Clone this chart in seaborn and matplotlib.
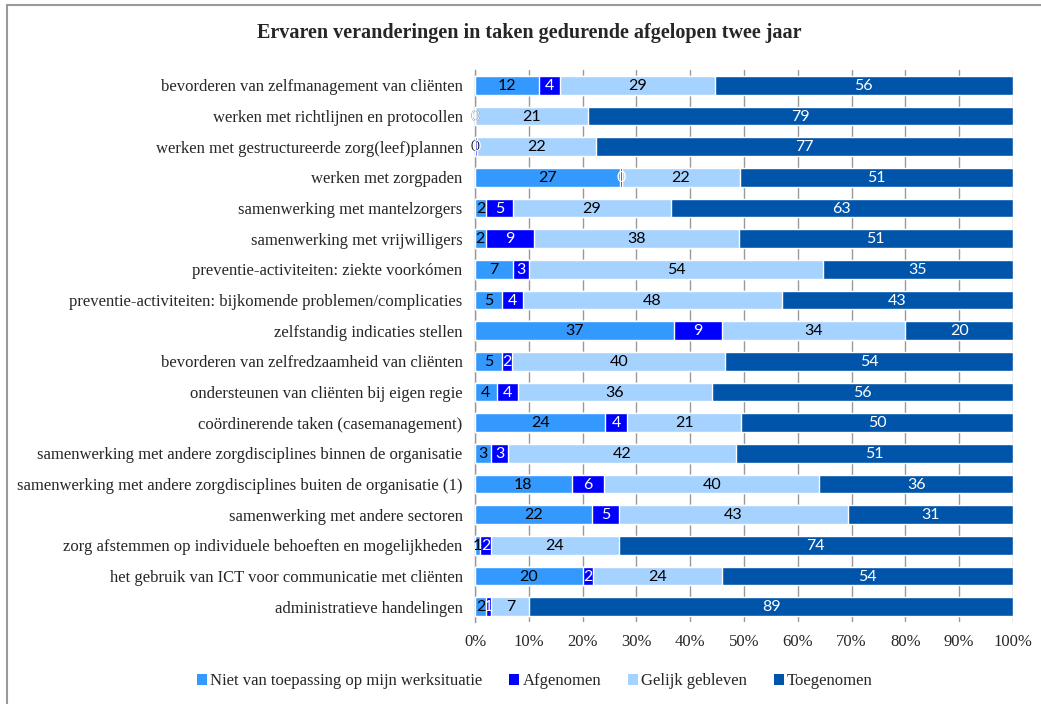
import numpy as np
import pandas as pd
import matplotlib.pyplot as plt
import seaborn as sns
from matplotlib.patches import Rectangle, Patch

taken = [
    "bevorderen van zelfmanagement van cliënten",
    "werken met richtlijnen en protocollen",
    "werken met gestructureerde zorg(leef)plannen",
    "werken met zorgpaden",
    "samenwerking met mantelzorgers",
    "samenwerking met vrijwilligers",
    "preventie-activiteiten: ziekte voorkómen",
    "preventie-activiteiten: bijkomende problemen/complicaties",
    "zelfstandig indicaties stellen",
    "bevorderen van zelfredzaamheid van cliënten",
    "ondersteunen van cliënten bij eigen regie",
    "coördinerende taken (casemanagement)",
    "samenwerking met andere zorgdisciplines binnen de organisatie",
    "samenwerking met andere zorgdisciplines buiten de organisatie (1)",
    "samenwerking met andere sectoren",
    "zorg afstemmen op individuele behoeften en mogelijkheden",
    "het gebruik van ICT voor communicatie met cliënten",
    "administratieve handelingen",
]

niet_van_toepassing = [12, 0, 0, 27, 2, 2, 7, 5, 37, 5, 4, 24, 3, 18, 22, 1, 20, 2]
afgenomen = [4, 0, 0.4, 0.4, 5, 9, 3, 4, 9, 2, 4, 4, 3, 6, 5, 2, 2, 1]
gelijk_gebleven = [29, 21, 22, 22, 29, 38, 54, 48, 34, 40, 36, 21, 42, 40, 43, 24, 24, 7]
toegenomen = [56, 79, 77, 51, 63, 51, 35, 43, 20, 54, 56, 50, 51, 36, 31, 74, 54, 89]

reeksen = ["Niet van toepassing op mijn werksituatie", "Afgenomen",
           "Gelijk gebleven", "Toegenomen"]
kleuren = ["#3399FF", "#0000FF", "#A6D2FF", "#0055AA"]
tekstkleuren = ["black", "white", "black", "white"]

waarden = np.array([niet_van_toepassing, afgenomen, gelijk_gebleven, toegenomen]).T
pct = waarden / waarden.sum(axis=1, keepdims=True) * 100
cum = np.cumsum(pct, axis=1)

df = pd.DataFrame(cum, columns=reeksen)
df["taak"] = taken

sns.set_theme(style="white")
serif = ["Liberation Serif", "DejaVu Serif"]
plt.rcParams["font.family"] = serif

fig = plt.figure(figsize=(10.41, 7.04), dpi=100)
ax = fig.add_axes([0.4563, 0.1165, 0.5168, 0.7841])

# stapel van achter naar voren tekenen
for naam, kleur in reversed(list(zip(reeksen, kleuren))):
    sns.barplot(data=df, x=naam, y="taak", order=taken, color=kleur,
                width=0.6, saturation=1, ax=ax, zorder=3)

for i in range(len(taken)):
    start = 0
    for j in range(4):
        mid = start + pct[i, j] / 2
        ax.text(mid, i + 0.02, f"{waarden[i, j]:.0f}", ha="center", va="center",
                color=tekstkleuren[j], fontsize=11.5, family=["Lato", "DejaVu Sans"],
                zorder=5)
        start += pct[i, j]

ax.set_xlim(0, 100)
ax.set_ylim(len(taken) - 0.5, -0.5)
ax.set_xticks(np.arange(0, 101, 10))
ax.set_xticklabels([f"{t}%" for t in range(0, 101, 10)], fontsize=12)
ax.tick_params(axis="y", labelsize=12, length=0, pad=9)
ax.tick_params(axis="x", length=0, pad=9)
ax.set_xlabel("")
ax.set_ylabel("")
ax.xaxis.grid(True, color="#999999", linewidth=1, zorder=0)
ax.set_axisbelow(True)
for s in ["top", "right", "bottom"]:
    ax.spines[s].set_visible(False)
ax.spines["left"].set_color("#999999")
ax.spines["left"].set_linewidth(1)

fig.text(0.508, 0.953, "Ervaren veranderingen in taken gedurende afgelopen twee jaar",
         ha="center", va="center", fontsize=14.5, fontweight="bold")

handles = [Patch(facecolor=k, edgecolor="none") for k in kleuren]
fig.legend(handles, reeksen, loc="center", bbox_to_anchor=(0.514, 0.032), ncol=4,
           frameon=False, fontsize=12, handlelength=0.6, handleheight=0.6,
           handletextpad=0.2, columnspacing=1.6)

fig.patches.append(Rectangle((0.0067, -0.05), 1.2, 0.9929 + 0.05, fill=False,
                             edgecolor="#999999", linewidth=1.5,
                             transform=fig.transFigure, figure=fig))

fig.savefig("out.png", dpi=100)
